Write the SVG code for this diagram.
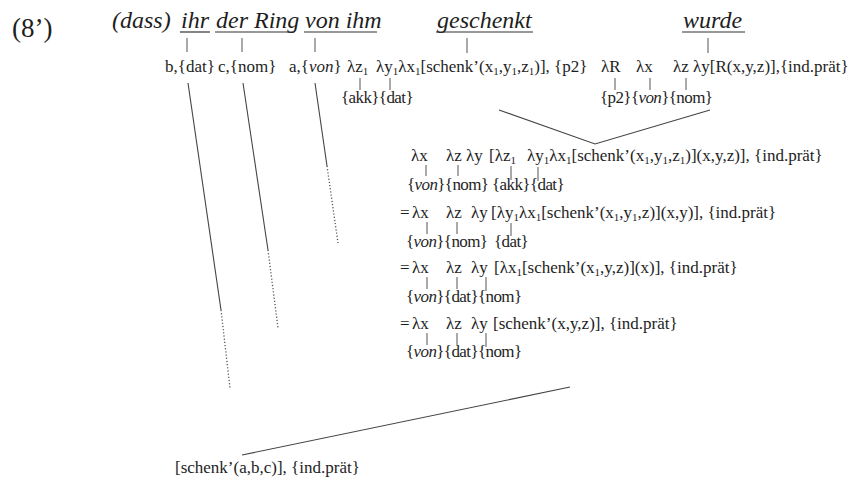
<svg xmlns="http://www.w3.org/2000/svg" width="850" height="480" viewBox="0 0 850 480">
  <style>
    text { font-family: "Liberation Serif", "Times New Roman", serif; fill: #1e1e1e; }
    .w { font-size: 24px; font-style: italic; }
    .t { font-size: 17px; }
    .b { letter-spacing: -0.6px; }
    .s { font-size: 11px; }
    .i { font-style: italic; }
    .ul { stroke: #333; stroke-width: 1.2; }
    .tick { stroke: #555; stroke-width: 1; }
    .ln { stroke: #444; stroke-width: 1.1; fill: none; }
    .dot { stroke: #555; stroke-width: 1.3; fill: none; stroke-dasharray: 1.2 2; }
  </style>
  <rect width="850" height="480" fill="#ffffff"/>

  <!-- example number -->
  <g id="label"><text x="12" y="37" style="font-size:27px">(8’)</text></g>

  <!-- sentence words -->
  <g id="words">
    <text class="w" x="112" y="28">(dass)</text>
    <text class="w" x="181" y="28">ihr</text>
    <text class="w" x="216" y="28">der Ring</text>
    <text class="w" x="305" y="28">von ihm</text>
    <text class="w" x="437" y="28">geschenkt</text>
    <text class="w" x="683" y="28">wurde</text>
    <line class="ul" x1="180" y1="32" x2="210" y2="32"/>
    <line class="ul" x1="215" y1="32" x2="294" y2="32"/>
    <line class="ul" x1="304" y1="32" x2="377" y2="32"/>
    <line class="ul" x1="436" y1="32" x2="533" y2="32"/>
    <line class="ul" x1="682" y1="32" x2="745" y2="32"/>
  </g>

  <!-- lexical entries -->
  <g id="n-ihr"><text class="t" x="165" y="72">b,{dat}</text></g>
  <g id="n-ring"><text class="t" x="218" y="72">c,{nom}</text></g>
  <g id="n-von"><text class="t" x="289" y="72">a,{<tspan class="i">von</tspan>}</text></g>
  <g id="n-geschenkt">
    <text class="t" x="347" y="72">λz<tspan class="s" dy="3">1</tspan></text>
    <text class="t" x="376" y="72">λy<tspan class="s" dy="3">1</tspan><tspan dy="-3">λx</tspan><tspan class="s" dy="3">1</tspan><tspan dy="-3">[schenk’(x</tspan><tspan class="s" dy="3">1</tspan><tspan dy="-3">,y</tspan><tspan class="s" dy="3">1</tspan><tspan dy="-3">,z</tspan><tspan class="s" dy="3">1</tspan><tspan dy="-3">)], {p2}</tspan></text>
    <text class="t b" x="341" y="103">{akk}{dat}</text>
  </g>
  <g id="n-wurde">
    <text class="t" x="601" y="72">λR</text>
    <text class="t" x="636" y="72">λx</text>
    <text class="t" x="673" y="72">λz λy[R(x,y,z)],{ind.prät}</text>
    <text class="t b" x="600" y="103">{p2}{<tspan class="i">von</tspan>}{nom}</text>
  </g>

  <!-- derivation steps -->
  <g id="step1">
    <text class="t" x="411" y="161">λx</text>
    <text class="t" x="446" y="161">λz</text>
    <text class="t" x="466" y="161">λy</text>
    <text class="t" x="489" y="161">[λz<tspan class="s" dy="3">1</tspan></text>
    <text class="t" x="527" y="161">λy<tspan class="s" dy="3">1</tspan><tspan dy="-3">λx</tspan><tspan class="s" dy="3">1</tspan><tspan dy="-3">[schenk’(x</tspan><tspan class="s" dy="3">1</tspan><tspan dy="-3">,y</tspan><tspan class="s" dy="3">1</tspan><tspan dy="-3">,z</tspan><tspan class="s" dy="3">1</tspan><tspan dy="-3">)](x,y,z)], {ind.prät}</tspan></text>
    <text class="t b" x="407" y="190">{<tspan class="i">von</tspan>}{nom} {akk}{dat}</text>
  </g>
  <g id="step2">
    <text class="t" x="400" y="218">=</text>
    <text class="t" x="412" y="218">λx</text>
    <text class="t" x="446" y="218">λz</text>
    <text class="t" x="471" y="218">λy</text>
    <text class="t" x="491" y="218">[λy<tspan class="s" dy="3">1</tspan><tspan dy="-3">λx</tspan><tspan class="s" dy="3">1</tspan><tspan dy="-3">[schenk’(x</tspan><tspan class="s" dy="3">1</tspan><tspan dy="-3">,y</tspan><tspan class="s" dy="3">1</tspan><tspan dy="-3">,z)](x,y)], {ind.prät}</tspan></text>
    <text class="t b" x="406" y="247">{<tspan class="i">von</tspan>}{nom}</text>
    <text class="t b" x="494" y="247">{dat}</text>
  </g>
  <g id="step3">
    <text class="t" x="400" y="273">=</text>
    <text class="t" x="412" y="273">λx</text>
    <text class="t" x="446" y="273">λz</text>
    <text class="t" x="471" y="273">λy</text>
    <text class="t" x="494" y="273">[λx<tspan class="s" dy="3">1</tspan><tspan dy="-3">[schenk’(x</tspan><tspan class="s" dy="3">1</tspan><tspan dy="-3">,y,z)](x)], {ind.prät}</tspan></text>
    <text class="t b" x="406" y="302">{<tspan class="i">von</tspan>}{dat}{nom}</text>
  </g>
  <g id="step4">
    <text class="t" x="400" y="329">=</text>
    <text class="t" x="412" y="329">λx</text>
    <text class="t" x="446" y="329">λz</text>
    <text class="t" x="471" y="329">λy</text>
    <text class="t" x="493" y="329">[schenk’(x,y,z)], {ind.prät}</text>
    <text class="t b" x="406" y="357">{<tspan class="i">von</tspan>}{dat}{nom}</text>
  </g>
  <g id="result">
    <text class="t" x="175" y="473">[schenk’(a,b,c)], {ind.prät}</text>
  </g>

  <!-- connectors -->
  <g id="connectors">
    <!-- word to entry -->
    <line class="tick" x1="187" y1="38" x2="187" y2="52"/>
    <line class="tick" x1="242" y1="38" x2="242" y2="52"/>
    <line class="tick" x1="315" y1="38" x2="315" y2="52"/>
    <line class="tick" x1="467" y1="38" x2="467" y2="53"/>
    <line class="tick" x1="708" y1="38" x2="708" y2="53"/>
    <!-- role ticks, lexical row -->
    <line class="tick" x1="360" y1="78" x2="360" y2="90"/>
    <line class="tick" x1="390" y1="78" x2="390" y2="90"/>
    <line class="tick" x1="615" y1="78" x2="615" y2="90"/>
    <line class="tick" x1="650" y1="78" x2="650" y2="90"/>
    <line class="tick" x1="686" y1="78" x2="686" y2="90"/>
    <!-- step 1 ticks -->
    <line class="tick" x1="426" y1="165" x2="426" y2="176"/>
    <line class="tick" x1="458" y1="165" x2="458" y2="176"/>
    <line class="tick" x1="511" y1="166" x2="511" y2="180"/>
    <line class="tick" x1="538" y1="167" x2="538" y2="181"/>
    <!-- step 2 ticks -->
    <line class="tick" x1="427" y1="222" x2="427" y2="234"/>
    <line class="tick" x1="457" y1="222" x2="457" y2="234"/>
    <line class="tick" x1="511" y1="223" x2="511" y2="236"/>
    <!-- step 3 ticks -->
    <line class="tick" x1="427" y1="277" x2="427" y2="289"/>
    <line class="tick" x1="457" y1="277" x2="457" y2="289"/>
    <line class="tick" x1="486" y1="277" x2="486" y2="291"/>
    <!-- step 4 ticks -->
    <line class="tick" x1="427" y1="333" x2="427" y2="345"/>
    <line class="tick" x1="457" y1="333" x2="457" y2="345"/>
    <line class="tick" x1="486" y1="333" x2="486" y2="347"/>
    <!-- merge of geschenkt and wurde -->
    <polyline class="ln" points="499,110 595,144 710,110"/>
    <!-- argument lines down to the result -->
    <line class="ln" x1="188" y1="83" x2="221" y2="310"/>
    <line class="dot" x1="221" y1="310" x2="230" y2="388"/>
    <line class="ln" x1="243" y1="83" x2="268" y2="250"/>
    <line class="dot" x1="268" y1="250" x2="278" y2="328"/>
    <line class="ln" x1="315" y1="83" x2="327" y2="166"/>
    <line class="dot" x1="327" y1="166" x2="338" y2="243"/>
    <line class="ln" x1="242" y1="455" x2="570" y2="387"/>
  </g>
</svg>
